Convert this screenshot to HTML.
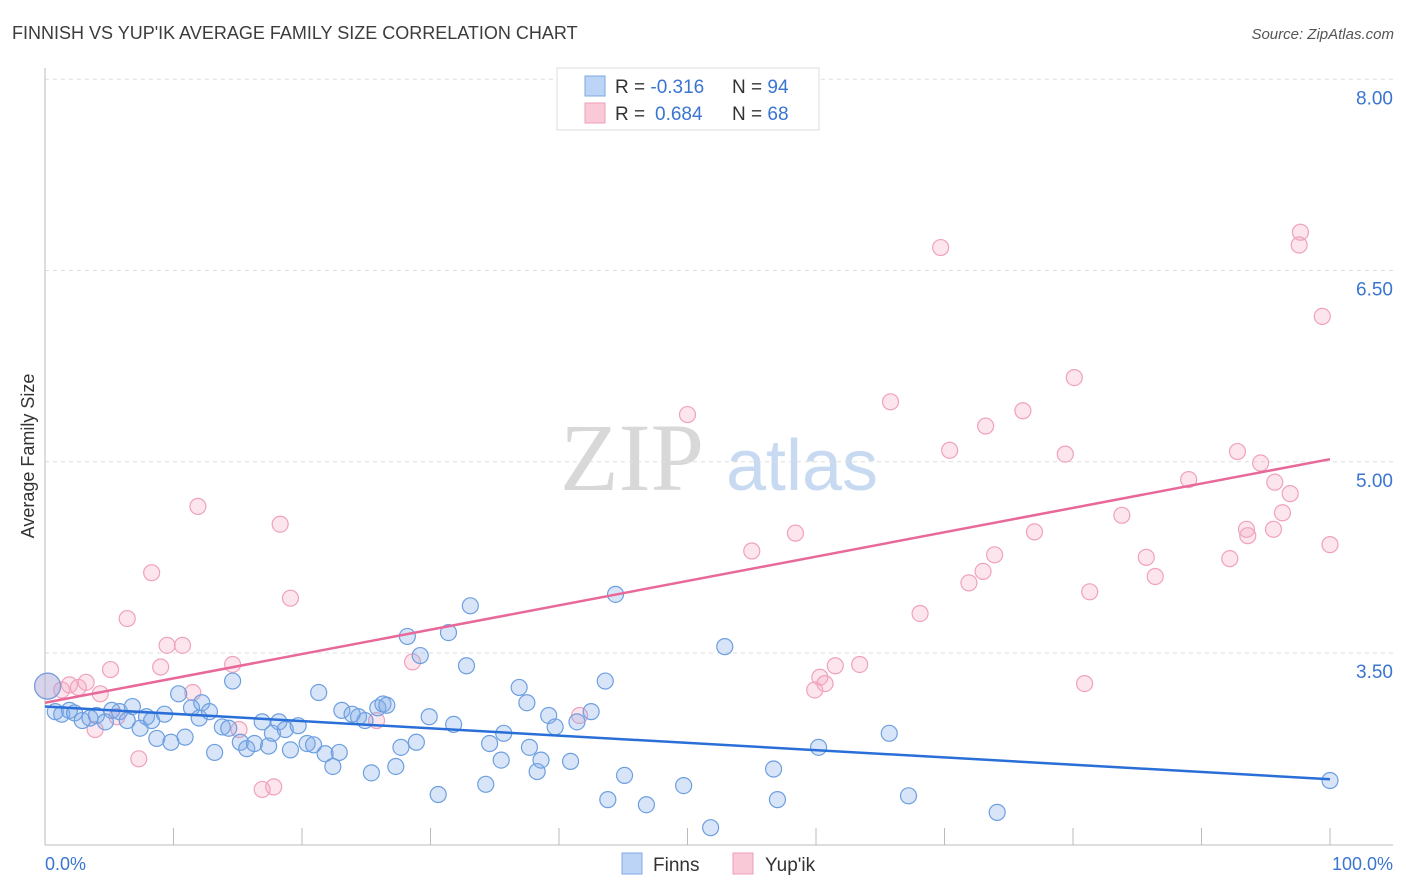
<!DOCTYPE html>
<html><head><meta charset="utf-8"><style>
body{margin:0;background:#fff;font-family:"Liberation Sans",sans-serif;}
svg{display:block}
</style></head><body>
<svg width="1406" height="892">
<text x="12" y="39" font-size="18" fill="#3c3c3c">FINNISH VS YUP'IK AVERAGE FAMILY SIZE CORRELATION CHART</text>
<text x="1394" y="39" font-size="15" fill="#555" font-style="italic" text-anchor="end">Source: ZipAtlas.com</text>
<g>
<text x="632" y="490" font-size="96" font-family="Liberation Serif,serif" fill="#d8d8d8" text-anchor="middle">ZIP</text>
<text x="802" y="490" font-size="72" fill="#c8daf2" text-anchor="middle">atlas</text>
</g>
<g id="grid"></g>
<g id="axes"></g>
<g id="marks"></g>
<text transform="translate(34,456) rotate(-90)" font-size="18" fill="#333" text-anchor="middle">Average Family Size</text>
<text x="45" y="870" font-size="18" fill="#3a75d0">0.0%</text>
<text x="1393" y="870" font-size="18" fill="#3a75d0" text-anchor="end">100.0%</text>
<g>
<rect x="557" y="68" width="262" height="62" fill="#fff" stroke="#ddd"/>
<rect x="585" y="76" width="20" height="20" fill="#bcd4f5" stroke="#7ea9e3"/>
<rect x="585" y="103" width="20" height="20" fill="#f9c9d8" stroke="#ef9fb9"/>
<text x="615" y="93" font-size="19" fill="#333">R = <tspan fill="#3a75d0">-0.316</tspan><tspan x="732">N = </tspan><tspan fill="#3a75d0">94</tspan></text>
<text x="615" y="120" font-size="19" fill="#333">R = <tspan fill="#3a75d0" x="655">0.684</tspan><tspan x="732">N = </tspan><tspan fill="#3a75d0">68</tspan></text>
</g>
<g>
<rect x="622" y="853" width="20" height="21" fill="#bcd4f5" stroke="#7ea9e3"/>
<text x="653" y="871" font-size="19" fill="#333">Finns</text>
<rect x="733" y="853" width="20" height="21" fill="#f9c9d8" stroke="#ef9fb9"/>
<text x="765" y="871" font-size="19" fill="#333">Yup'ik</text>
</g>
</svg>
<script>
const yTicks=[3.5,5.0,6.5,8.0];
const yTickLabels=["3.50","5.00","6.50","8.00"];
const xTicks=[0,10,20,30,40,50,60,70,80,90,100];
const finnsX=[0.2,0.8,1.3,1.9,2.3,2.9,3.5,4.0,4.7,5.2,5.8,6.4,6.8,7.4,7.9,8.3,8.7,9.3,9.8,10.4,10.9,11.4,12.0,12.2,12.8,13.2,13.8,14.3,14.6,15.2,15.7,16.3,16.9,17.4,17.7,18.2,18.7,19.1,19.7,20.4,20.9,21.3,21.8,22.4,22.9,23.1,23.9,24.4,24.9,25.4,25.9,26.3,26.6,27.3,27.7,28.2,28.9,29.2,29.9,30.6,31.4,31.8,32.8,33.1,34.3,34.6,35.5,35.7,36.9,37.5,37.7,38.3,38.6,39.2,39.7,40.9,41.4,42.5,43.6,43.8,44.4,45.1,46.8,49.7,51.8,52.9,56.7,57.0,60.2,65.7,67.2,74.1,100];
const finnsY=[3.24,3.04,3.02,3.05,3.03,2.97,2.99,3.01,2.96,3.05,3.04,2.97,3.08,2.91,3.00,2.97,2.83,3.02,2.80,3.18,2.84,3.07,2.99,3.11,3.04,2.72,2.92,2.91,3.28,2.80,2.75,2.79,2.96,2.77,2.87,2.96,2.90,2.74,2.93,2.79,2.78,3.19,2.71,2.61,2.72,3.05,3.02,3.00,2.97,2.56,3.07,3.10,3.09,2.61,2.76,3.63,2.80,3.48,3.00,2.39,3.66,2.94,3.40,3.87,2.47,2.79,2.66,2.87,3.23,3.11,2.76,2.57,2.66,3.01,2.92,2.65,2.96,3.04,3.28,2.35,3.96,2.54,2.31,2.46,2.13,3.55,2.59,2.35,2.76,2.87,2.38,2.25,2.50];
const yupikX=[0.2,1.3,1.9,2.6,3.2,3.9,4.3,5.1,5.6,6.4,7.3,8.3,9.0,9.5,10.7,11.5,11.9,14.6,15.1,16.9,17.8,18.3,19.1,25.8,28.6,41.6,50.0,55.0,58.4,59.9,60.3,60.7,61.5,63.4,65.8,68.1,69.7,70.4,71.9,73.0,73.2,73.9,76.1,77.0,79.4,80.1,80.9,81.3,83.8,85.7,86.4,89.0,92.2,92.8,93.5,93.6,94.6,95.6,95.7,96.3,96.9,97.6,97.7,99.4,100];
const yupikY=[3.24,3.21,3.25,3.23,3.27,2.90,3.18,3.37,3.00,3.77,2.67,4.13,3.39,3.56,3.56,3.19,4.65,3.41,2.90,2.43,2.45,4.51,3.93,2.97,3.43,3.01,5.37,4.30,4.44,3.21,3.31,3.26,3.40,3.41,5.47,3.81,6.68,5.09,4.05,4.14,5.28,4.27,5.40,4.45,5.06,5.66,3.26,3.98,4.58,4.25,4.10,4.86,4.24,5.08,4.47,4.42,4.99,4.47,4.84,4.60,4.75,6.70,6.80,6.14,4.35];
const finnsLine=[3.08,2.51];
const yupikLine=[3.11,5.02];
const NS="http://www.w3.org/2000/svg";
const xs=v=>45+v*12.85;
const ys=v=>653-(v-3.5)*127.5;
function mk(parent,tag,attrs){const e=document.createElementNS(NS,tag);for(const k in attrs)e.setAttribute(k,attrs[k]);document.getElementById(parent).appendChild(e);return e;}
yTicks.forEach((t,i)=>{
 const l=mk('grid','line',{x1:45,x2:1393,y1:ys(t),y2:ys(t),stroke:'#ddd','stroke-dasharray':'4,4'});
 
 
 const tx=mk('grid','text',{x:1393,y:ys(t)+25,'font-size':19,fill:'#3a75d0','text-anchor':'end'});
 tx.textContent=yTickLabels[i];
 
 
});
const ax=mk('axes','line',{x1:45,x2:45,y1:68,y2:845,stroke:'#bbb'});


const bx=mk('axes','line',{x1:45,x2:1393,y1:845,y2:845,stroke:'#bbb'});


xTicks.forEach(t=>{
 const l=mk('axes','line',{x1:xs(t),x2:xs(t),y1:828,y2:845,stroke:'#bbb'});
 
 
});
function pts(X,Y,fill,stroke,name){
 X.forEach((x,i)=>{
  const c=mk('marks','circle',{cx:xs(x),cy:ys(Y[i]),r:i===0?13:8,fill:fill,stroke:stroke,'stroke-width':1.2});
  
  
 });
}
pts(yupikX,yupikY,'rgba(246,170,196,0.3)','#f0a2bb','yupik-point');
pts(finnsX,finnsY,'rgba(125,170,232,0.3)','#6d9fe0','finns-point');
const fl=mk('marks','line',{x1:xs(0),y1:ys(finnsLine[0]),x2:xs(100),y2:ys(finnsLine[1]),stroke:'#2a6fd8','stroke-width':2.5});


const yl=mk('marks','line',{x1:xs(0),y1:ys(yupikLine[0]),x2:xs(100),y2:ys(yupikLine[1]),stroke:'#e8689a','stroke-width':2.5});


</script>
</body></html>
